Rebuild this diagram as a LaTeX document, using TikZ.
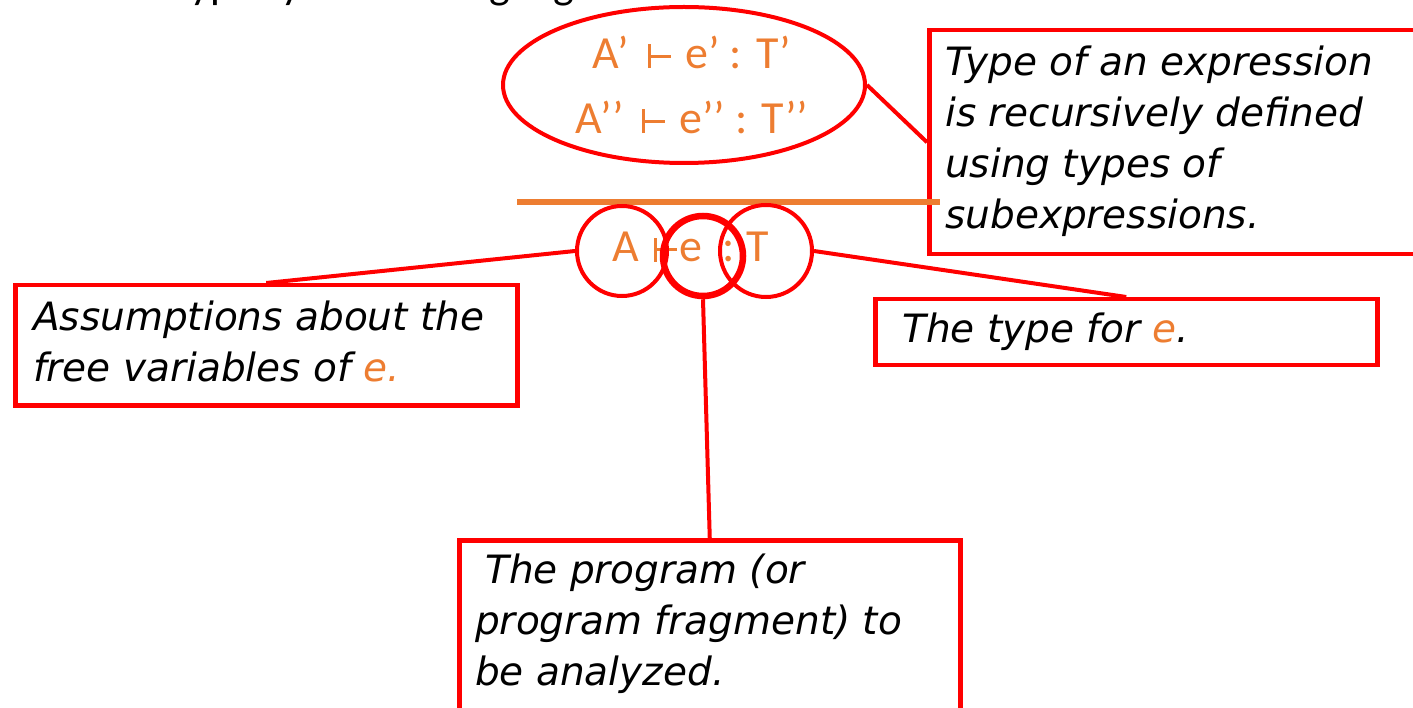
\documentclass[tikz,border=0pt]{standalone}
\usepackage{fontspec}
\setmainfont{DejaVu Sans}
\newfontfamily\handfont{DejaVu Sans}
\newfontfamily\calfont{Carlito}
\usetikzlibrary{shapes.geometric}
\definecolor{offorange}{HTML}{ED7D31}
\definecolor{pptred}{HTML}{FF0000}
\newcommand\tstile{\rule{3.5pt}{24pt}\rule[10.5pt]{19.5pt}{3pt}}
\begin{document}
\begin{tikzpicture}[x=1pt,y=-1pt,
  note/.style={draw=pptred, line width=4.5pt, inner sep=0pt, anchor=north west},
  notetext/.style={anchor=north west, inner sep=0pt, align=left,
    font=\handfont\itshape\fontsize{39}{51}\selectfont},
  judg/.style={text=offorange, inner sep=0pt, align=center,
    font=\calfont\fontsize{46}{65}\selectfont},
  ring/.style={draw=pptred, line width=4pt, circle, inner sep=0pt},
  link/.style={draw=pptred, line width=4pt}]
\useasboundingbox (0,0) rectangle (1413,708);

% cut-off heading at the top
\node[anchor=base west, inner sep=0pt, font=\calfont\fontsize{44}{50}\selectfont] (title) at (10,-1) {Describe type systems using logic};

% premises
\node[draw=pptred, line width=4pt, ellipse, minimum width=362pt, minimum height=156pt, inner sep=0pt] (prem) at (684,85) {};
\node[judg] (premtext) at (692,84.5) {A’ \hspace{8pt}\tstile\hspace{4pt} e’ : T’\\A’’ \hspace{8pt}\tstile\hspace{4pt} e’’ : T’’};

% note boxes
\node[note, minimum width=520pt, minimum height=224pt] (trbox) at (927,28) {};
\node[note, minimum width=502pt, minimum height=120pt] (lbox) at (13,283) {};
\node[note, minimum width=502pt, minimum height=66pt] (rbox) at (873,297) {};
\node[note, minimum width=501pt, minimum height=202pt] (bbox) at (457,538) {};

% inference line
\draw[offorange, line width=6pt] (517,202) -- (940,202);

% conclusion
\node[judg] (concl) at (691,247) {A\hspace{14pt}\tstile\hspace{3pt}e\hspace{20pt}:\hspace{12pt}T};
\node[ring, minimum size=90pt] (lc) at (622,251) {};
\node[ring, minimum size=80pt, line width=6.5pt] (mc) at (703,256) {};
\node[ring, minimum size=92pt] (rc) at (766,251) {};

% note texts
\node[notetext] (trtext) at (945,45.5) {Type of an expression\\is recursively defined\\using types of\\subexpressions.};
\node[notetext] (ltext) at (33,300.5) {Assumptions about the\\free variables of \textcolor{offorange}{e.}};
\node[notetext] (rtext) at (902,312.5) {The type for \textcolor{offorange}{e}.};
\node[notetext] (btext) at (475,553.5) {\hspace{10pt}The program (or\\program fragment) to\\be analyzed.};

% connectors
\draw[link] (prem.east) -- (trbox.west);
\draw[link] (lc.west) -- (lbox.north);
\draw[link] (rc.east) -- (rbox.north);
\draw[link] (mc.south) -- (bbox.north);
\end{tikzpicture}
\end{document}
